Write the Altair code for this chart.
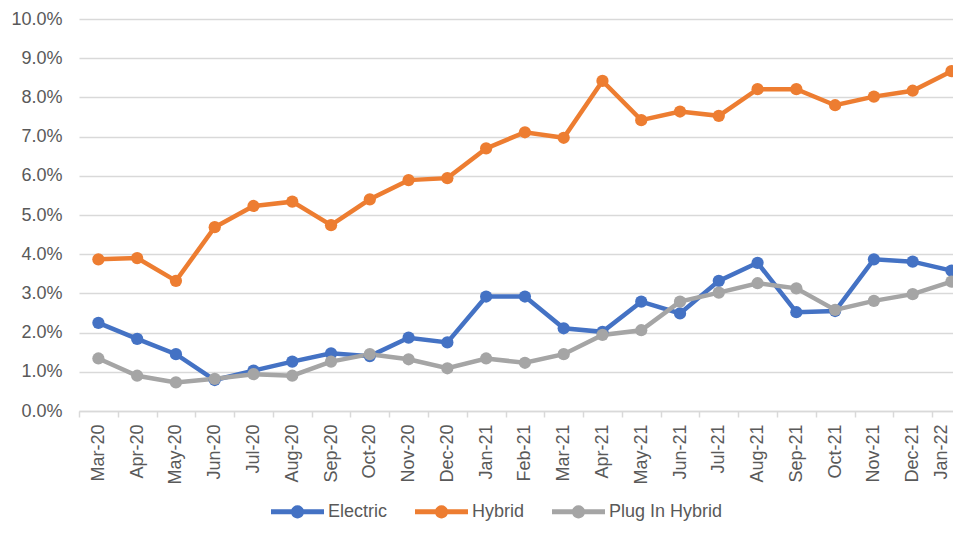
import json
import altair as alt
import pandas as pd

months = ["Mar-20", "Apr-20", "May-20", "Jun-20", "Jul-20", "Aug-20", "Sep-20",
          "Oct-20", "Nov-20", "Dec-20", "Jan-21", "Feb-21", "Mar-21", "Apr-21",
          "May-21", "Jun-21", "Jul-21", "Aug-21", "Sep-21", "Oct-21", "Nov-21",
          "Dec-21", "Jan-22"]
electric = [2.25, 1.84, 1.45, 0.79, 1.03, 1.26, 1.47, 1.40, 1.87, 1.75, 2.92, 2.92,
            2.11, 2.02, 2.79, 2.49, 3.32, 3.78, 2.52, 2.55, 3.87, 3.81, 3.58]
hybrid = [3.87, 3.90, 3.32, 4.69, 5.23, 5.34, 4.74, 5.40, 5.89, 5.94, 6.70, 7.11,
          6.97, 8.42, 7.42, 7.64, 7.53, 8.21, 8.21, 7.80, 8.02, 8.17, 8.67]
plugin = [1.34, 0.90, 0.73, 0.82, 0.94, 0.90, 1.26, 1.45, 1.32, 1.09, 1.34, 1.23,
          1.45, 1.94, 2.06, 2.79, 3.02, 3.26, 3.13, 2.58, 2.81, 2.98, 3.30]
series = ["Electric", "Hybrid", "Plug In Hybrid"]
colors = ["#4472C4", "#ED7D31", "#A5A5A5"]

rows = []
for name, vals in zip(series, [electric, hybrid, plugin]):
    for i, (m, v) in enumerate(zip(months, vals)):
        rows.append({"Idx": i, "Month": m, "Series": name, "Value": v})
df = pd.DataFrame(rows)

n = len(months)
label_values = list(range(n))
tick_values = [i - 0.5 for i in range(n + 1)]
label_expr = json.dumps(months) + "[datum.value]"

legend_path = ("M-1,-0.094 L1,-0.094 L1,0.094 L-1,0.094 Z "
               "M-0.25,0 A0.25,0.25 0 1,1 0.25,0 A0.25,0.25 0 1,1 -0.25,0 Z")

# plot is 874 px wide, category step ~38.77 px (last category partly cut off, as in the source)
x_scale = alt.Scale(domain=[-0.5, 22.04], nice=False, zero=False)

y_enc = alt.Y("Value:Q", title=None,
              scale=alt.Scale(domain=[0, 10], nice=False),
              axis=alt.Axis(values=list(range(11)),
                            labelExpr="format(datum.value, '.1f') + '%'",
                            domain=False, ticks=False, labelPadding=17,
                            labelFontSize=18, labelColor="#595959",
                            labelFont="Liberation Sans",
                            gridColor="#d9d9d9", gridWidth=1.5))

color_enc = alt.Color("Series:N", sort=series,
                      scale=alt.Scale(domain=series, range=colors),
                      legend=alt.Legend(title=None, orient="none", direction="horizontal",
                                        legendX=192, legendY=466,
                                        symbolType=legend_path, symbolSize=2809,
                                        symbolStrokeWidth=0,
                                        labelFontSize=18, labelColor="#595959",
                                        labelFont="Liberation Sans",
                                        labelOffset=4, columnPadding=27))

lines = alt.Chart(df).mark_line(strokeWidth=4.5).encode(
    x=alt.X("Idx:Q", title=None, scale=x_scale,
            axis=alt.Axis(orient="bottom", values=label_values, labelExpr=label_expr,
                          labelAngle=-90, ticks=False, grid=False,
                          domainColor="#d9d9d9", domainWidth=1.5,
                          labelPadding=13, labelFontSize=18, labelColor="#595959",
                          labelFont="Liberation Sans", labelFlush=False,
                          labelOverlap=False, labelBound=False,
                          labelOffset=alt.ExprRef(expr="datum.value == 22 ? -10 : 0"))),
    y=y_enc,
    color=color_enc,
    order=alt.Order("Idx:Q"),
)

points = alt.Chart(df).mark_circle(size=150, opacity=1).encode(
    x=alt.X("Idx:Q", title=None, scale=x_scale,
            axis=alt.Axis(orient="bottom", values=tick_values, labels=False,
                          domain=False, grid=False, ticks=True, tickSize=6,
                          tickColor="#d9d9d9", tickWidth=1.5)),
    y=y_enc,
    color=color_enc,
)

chart = alt.layer(lines, points).resolve_axis(x="independent").properties(
    width=874, height=392,
    autosize=alt.AutoSizeParams(type="none"),
    padding={"left": 71, "top": 11, "right": 0, "bottom": 110},
).configure_view(stroke=None)

chart.save("out.html", embed_options={"renderer": "svg", "actions": False})
